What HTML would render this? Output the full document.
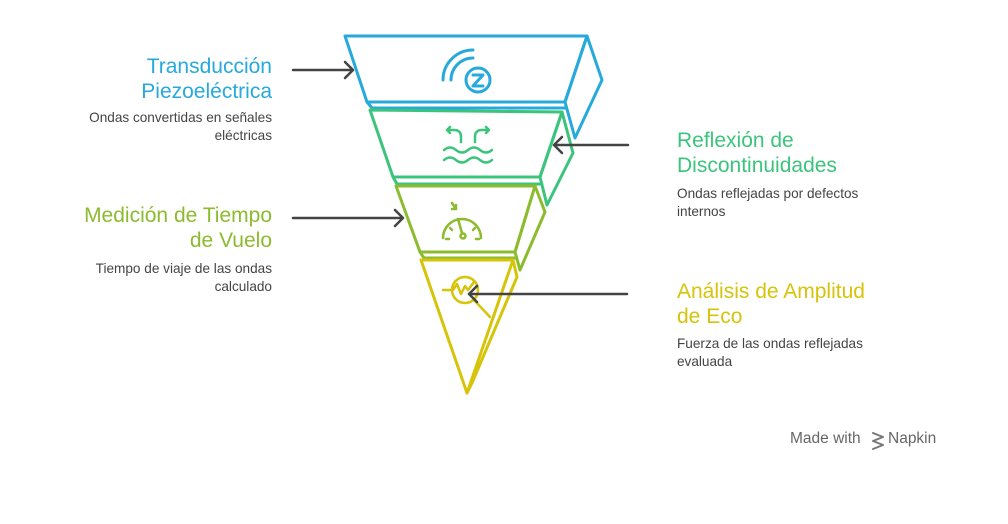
<!DOCTYPE html>
<html><head><meta charset="utf-8"><style>
html,body{margin:0;padding:0;background:#fff;}
body{width:1008px;height:524px;overflow:hidden;position:relative;font-family:"Liberation Sans",sans-serif;}
.t{position:absolute;font-size:21px;line-height:25px;}
.d{position:absolute;font-size:13.6px;line-height:18px;color:#444;}
.r{text-align:right;}
</style></head><body>
<svg width="1008" height="524" style="position:absolute;left:0;top:0" fill="none" stroke-width="3" stroke-linejoin="round" stroke-linecap="round">
<g stroke="#27a9dc">
<polygon points="345,36 587,36 565,102 367,102"/>
<polygon points="587,36 602,80 575,138 565,102"/>
<polyline points="367,102 372,108 565,108"/>
</g>
<g stroke="#3cc47c">
<polygon points="370,110 562,112 540,177 393,177"/>
<polygon points="562,112 573,153 547,205 540,177"/>
<polyline points="393,177 397,184 540,184"/>
</g>
<g stroke="#8dbb2e">
<polygon points="396,186 535,186 515,252 420,252"/>
<polygon points="535,186 545,212 520,270 515,252"/>
<polyline points="420,252 424,258 515,258"/>
</g>
<g stroke="#d6c40a">
<polygon points="421,260 513,260 467,393"/>
<polyline points="513,260 517,277 472,383 467,393"/>
</g>
<g stroke="#27a9dc" stroke-width="3">
<path d="M443,80 A30,30 0 0 1 473,50"/>
<path d="M451,80 A22,22 0 0 1 473,58"/>
<circle cx="478" cy="80" r="12"/>
<path d="M473,75 h10 l-10,11 h10"/>
</g>
<g stroke="#3cc47c" stroke-width="2.5">
<path d="M444,150 q6,-5 12,0 t12,0 t12,0 t12,0"/>
<path d="M444,160 q6,-5 12,0 t12,0 t12,0 t12,0"/>
<path d="M461,142 v-6 a6,6 0 0 0 -6,-6 h-8 m3,-3 l-3,3 l3,3"/>
<path d="M475,142 v-6 a6,6 0 0 1 6,-6 h8 m-3,-3 l3,3 l-3,3"/>
</g>
<g stroke="#8dbb2e" stroke-width="2.5">
<path d="M443,238 a19,19 0 0 1 38,0"/>
<path d="M452,203 l4,6 m0,0 h-4 m4,0 v-4"/>
<path d="M458,219 l4,14"/><circle cx="463" cy="236" r="2.5"/>
<path d="M446,239 h3 M476,239 h3 M450,228 l2,2 M475,228 l-2,2"/>
</g>
<g stroke="#d6c40a" stroke-width="2.5">
<circle cx="465" cy="290" r="13"/>
<path d="M443,290 h10 l4,-6 l4,10 l4,-8 l3,4 l6,-8"/>
<path d="M474,300 l16,17"/>
</g>
<g stroke="#444" stroke-width="2.5">
<path d="M293,70 H353 M345,62 l8,8 l-8,8"/>
<path d="M628,145 H554 M562,137 l-8,8 l8,8"/>
<path d="M293,218 H403 M395,210 l8,8 l-8,8"/>
<path d="M627,294 H469 M477,286 l-8,8 l8,8"/>
</g>
<g stroke="#777" stroke-width="2">
<path d="M873,433 l10,4 l-10,4 l10,4 l-10,4"/>
</g>
</svg>
<div class="t r" style="right:736px;top:54px;color:#27a9dc">Transducción<br>Piezoeléctrica</div>
<div class="d r" style="right:736px;top:109px">Ondas convertidas en señales<br>eléctricas</div>
<div class="t" style="left:677px;top:128px;color:#3cc47c">Reflexión de<br>Discontinuidades</div>
<div class="d" style="left:677px;top:185px">Ondas reflejadas por defectos<br>internos</div>
<div class="t r" style="right:736px;top:203px;color:#8dbb2e">Medición de Tiempo<br>de Vuelo</div>
<div class="d r" style="right:736px;top:260px">Tiempo de viaje de las ondas<br>calculado</div>
<div class="t" style="left:677px;top:279px;color:#d6c40a">Análisis de Amplitud<br>de Eco</div>
<div class="d" style="left:677px;top:335px">Fuerza de las ondas reflejadas<br>evaluada</div>
<div style="position:absolute;left:790px;top:430px;font-size:15.5px;color:#666">Made with</div>
<div style="position:absolute;left:888px;top:430px;font-size:15.5px;color:#666">Napkin</div>
</body></html>
